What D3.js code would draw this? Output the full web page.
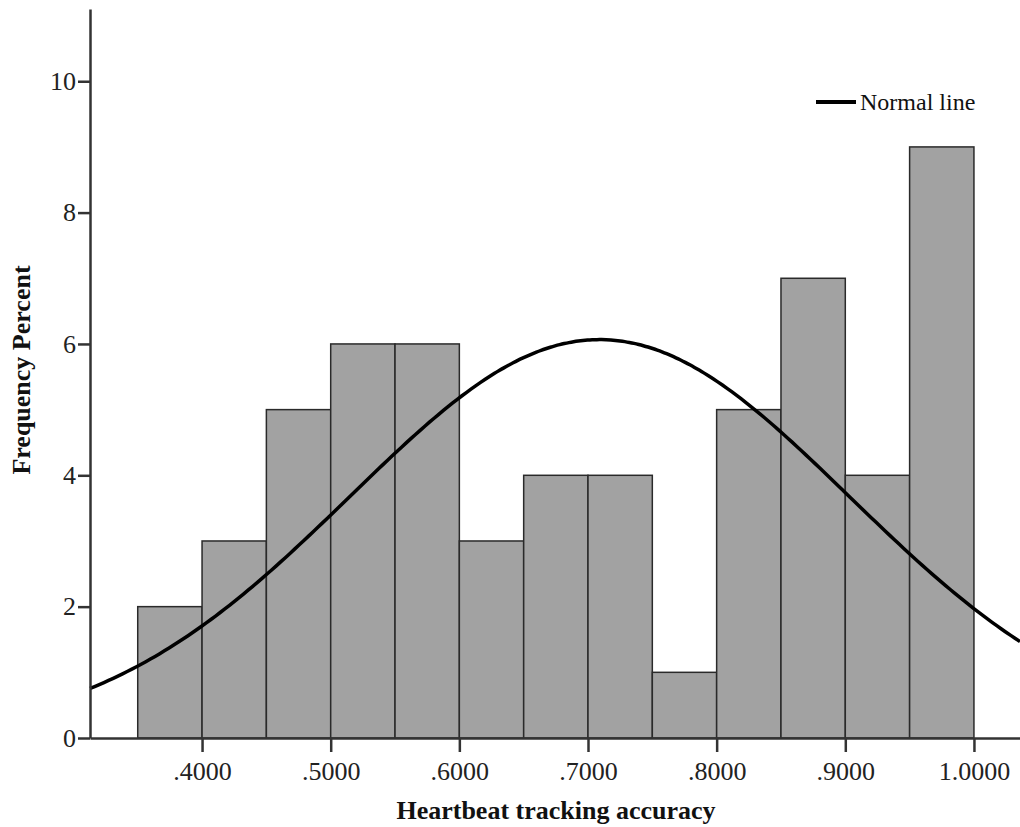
<!DOCTYPE html>
<html>
<head>
<meta charset="utf-8">
<script src="https://cdn.jsdelivr.net/npm/d3@7"></script>
<style>
  body { margin: 0; background: #fff; }
  text { font-family: "Liberation Serif", "Times New Roman", serif; }
</style>
</head>
<body>
<svg id="chart" width="1020" height="827"></svg>
<script>
// histogram bins (left edge) and counts
var binStarts = [0.35, 0.40, 0.45, 0.50, 0.55, 0.60, 0.65, 0.70, 0.75, 0.80, 0.85, 0.90, 0.95];
var binCounts = [2, 3, 5, 6, 6, 3, 4, 4, 1, 5, 7, 4, 9];
var binWidth = 0.05;
var xTicks = [0.4, 0.5, 0.6, 0.7, 0.8, 0.9, 1.0];
var xTickLabels = [".4000", ".5000", ".6000", ".7000", ".8000", ".9000", "1.0000"];
var yTicks = [0, 2, 4, 6, 8, 10];
// fitted normal line parameters
var fitMean = 0.709;
var fitSd = 0.194;

var svg = d3.select("#chart");
var margin = { top: 9, right: 0, bottom: 89, left: 90 };
var width = +svg.attr("width") - margin.left - margin.right;
var height = +svg.attr("height") - margin.top - margin.bottom;

var g = svg.append("g")
    .attr("transform", "translate(" + margin.left + "," + margin.top + ")");

var x = d3.scaleLinear().domain([0.3129, 1.0358]).range([0, width]);
var y = d3.scaleLinear().domain([0, 11.1]).range([height, 0]);

var n = d3.sum(binCounts);

// bars
g.selectAll(".bar")
    .data(binStarts)
    .enter()
    .append("rect")
    .attr("class", "bar")
    .attr("x", function(d) { return x(d); })
    .attr("y", function(d, i) { return y(binCounts[i]); })
    .attr("width", function(d) { return x(d + binWidth) - x(d); })
    .attr("height", function(d, i) { return height - y(binCounts[i]); })
    .style("fill", "#a2a2a2")
    .style("stroke", "#2a2a2a")
    .style("stroke-width", 1.5);

// normal curve
var curveXs = d3.range(0, 201).map(function(i) {
    return x.domain()[0] + (x.domain()[1] - x.domain()[0]) * i / 200;
});
function normalHeight(v) {
    var z = (v - fitMean) / fitSd;
    return n * binWidth * Math.exp(-0.5 * z * z) / (fitSd * Math.sqrt(2 * Math.PI));
}
g.append("path")
    .datum(curveXs)
    .attr("fill", "none")
    .attr("stroke", "#000")
    .attr("stroke-width", 3.5)
    .attr("d", d3.line()
        .x(function(d) { return x(d); })
        .y(function(d) { return y(normalHeight(d)); })
        .curve(d3.curveBasis));

// axes
var xAxis = g.append("g")
    .attr("transform", "translate(0," + height + ")")
    .call(d3.axisBottom(x)
        .tickValues(xTicks)
        .tickFormat(function(d, i) { return xTickLabels[i]; })
        .tickSize(14)
        .tickSizeOuter(0)
        .tickPadding(10));

var yAxis = g.append("g")
    .call(d3.axisLeft(y)
        .tickValues(yTicks)
        .tickSize(12)
        .tickSizeOuter(0)
        .tickPadding(2));

[xAxis, yAxis].forEach(function(ax) {
    ax.select(".domain").style("stroke", "#333").style("stroke-width", 2.5);
    ax.selectAll(".tick line").style("stroke", "#333").style("stroke-width", 2.5);
    ax.selectAll("text")
        .style("font-size", "26px")
        .style("font-family", "Liberation Serif")
        .style("fill", "#222");
});

// axis titles
svg.append("text")
    .attr("text-anchor", "middle")
    .attr("x", 556)
    .attr("y", 819)
    .style("font-size", "26px")
    .style("font-weight", "bold")
    .style("fill", "#111")
    .text("Heartbeat tracking accuracy");

svg.append("text")
    .attr("text-anchor", "middle")
    .attr("transform", "rotate(-90)")
    .attr("x", -370)
    .attr("y", 30)
    .style("font-size", "26px")
    .style("font-weight", "bold")
    .style("fill", "#111")
    .text("Frequency Percent");

// legend
svg.append("line")
    .attr("x1", 816).attr("x2", 856)
    .attr("y1", 102).attr("y2", 102)
    .attr("stroke", "#000")
    .attr("stroke-width", 4);
svg.append("text")
    .attr("x", 860)
    .attr("y", 110)
    .style("font-size", "24px")
    .style("fill", "#111")
    .text("Normal line");
</script>
</body>
</html>
